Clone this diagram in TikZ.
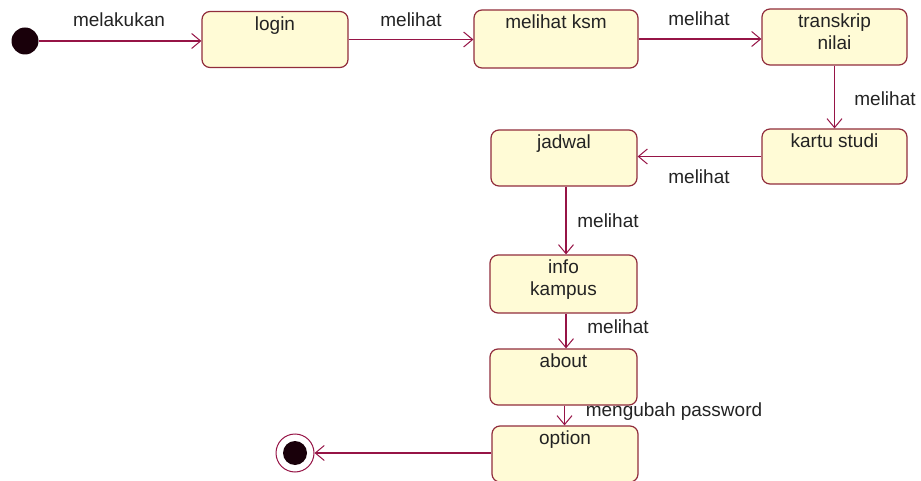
\documentclass[tikz,border=0pt]{standalone}
\usepackage{fontspec}
\setmainfont{Liberation Sans}
\usetikzlibrary{arrows.meta}
\definecolor{edge}{RGB}{150,20,70}
\definecolor{boxline}{RGB}{145,45,60}
\definecolor{boxfill}{RGB}{255,251,214}
\definecolor{ink}{RGB}{35,35,35}
\begin{document}
\begin{tikzpicture}[x=1pt,y=-1pt,
  statebox/.style={draw=boxline, fill=boxfill, line width=1.2pt, rounded corners=8pt,
    inner sep=0pt},
  stext/.style={anchor=north, align=center, text=ink, inner sep=2pt,
    font=\fontsize{19}{22}\selectfont},
  elabel/.style={text=ink, inner sep=0pt, font=\fontsize{19}{22}\selectfont},
  flow/.style={draw=edge, line width=1.3pt,
    -{Straight Barb[length=9pt,width=15pt,line width=1pt]}}]
\useasboundingbox (0,0) rectangle (921,481);

% pseudo states
\node[circle, fill={rgb,255:red,25;green,0;blue,10}, minimum size=27pt, inner sep=0pt] (start) at (25,41) {};
\node[circle, draw=edge, fill=white, line width=1pt, minimum size=38pt, inner sep=0pt] (stop) at (295,453) {};
\node[circle, fill={rgb,255:red,25;green,0;blue,10}, minimum size=24pt, inner sep=0pt] (stopdot) at (stop) {};

% states
\node[statebox, minimum width=146pt, minimum height=56pt] (login)  at (275,39.5) {};
\node[statebox, minimum width=164pt, minimum height=58pt] (ksm)    at (556,39) {};
\node[statebox, minimum width=145pt, minimum height=56pt] (trans)  at (834.5,37) {};
\node[statebox, minimum width=145pt, minimum height=55pt] (kartu)  at (834.5,156.5) {};
\node[statebox, minimum width=146pt, minimum height=56pt] (jadwal) at (564,158) {};
\node[statebox, minimum width=147pt, minimum height=58pt] (info)   at (563.5,284) {};
\node[statebox, minimum width=147pt, minimum height=56pt] (about)  at (563.5,377) {};
\node[statebox, minimum width=146pt, minimum height=56pt] (option) at (565,454) {};

% state names
\node[stext] at ([yshift=-3.5pt]login.north)  {login};
\node[stext] at ([yshift=-3.5pt]ksm.north)    {melihat ksm};
\node[stext] at ([yshift=-3.5pt]trans.north)  {transkrip\\nilai};
\node[stext] at ([yshift=-3.5pt]kartu.north)  {kartu studi};
\node[stext] at ([yshift=-3.5pt]jadwal.north) {jadwal};
\node[stext] at ([yshift=-3.5pt]info.north)   {info\\kampus};
\node[stext] at ([yshift=-3.5pt]about.north)  {about};
\node[stext] at ([yshift=-3.5pt]option.north) {option};

% transitions
\draw[flow] (start.east) -- (start -| login.west);
\draw[flow] (login.east) -- (login.east -| ksm.west);
\draw[flow] (ksm.east) -- (ksm.east -| trans.west);
\draw[flow] (trans.south) -- (trans.south |- kartu.north);
\draw[flow] (kartu.west) -- (kartu.west -| jadwal.east);
\draw[flow] ([xshift=2pt]jadwal.south) -- ([xshift=2pt]jadwal.south |- info.north);
\draw[flow] ([xshift=2.5pt]info.south) -- ([xshift=2.5pt]info.south |- about.north);
\draw[flow] ([xshift=1pt]about.south) -- ([xshift=1pt]about.south |- option.north);
\draw[flow] (option.west |- stop) -- (stop.east);

% transition labels
\node[elabel] (l1) at (119,20)  {melakukan};
\node[elabel] (l2) at (411,20)  {melihat};
\node[elabel] (l3) at (699,19)  {melihat};
\node[elabel] (l4) at (885,99)  {melihat};
\node[elabel] (l5) at (699,177) {melihat};
\node[elabel] (l6) at (608,221) {melihat};
\node[elabel] (l7) at (618,327) {melihat};
\node[elabel] (l8) at (674,412) {mengubah password};
\end{tikzpicture}
\end{document}
